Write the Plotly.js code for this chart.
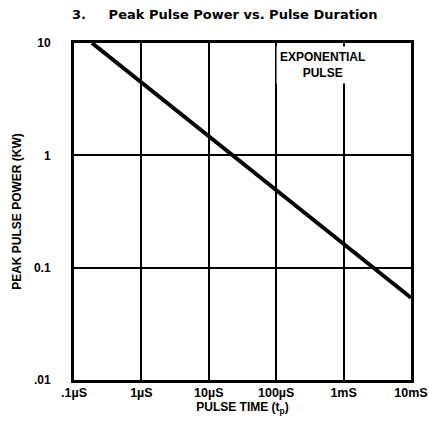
<!DOCTYPE html>
<html><head><meta charset="utf-8">
<script src="https://cdn.plot.ly/plotly-3.0.1.min.js"></script>
<style>html,body{margin:0;padding:0;background:#fff}</style>
</head><body>
<div id="chart" style="width:429px;height:425px"></div>
<script>
// pulse time in microseconds
const pulseTimeUs = [0.185, 100, 10000];
// peak pulse power in kW
const peakPowerKW = [10, 0.49, 0.054];
const xTickVals = [0.1, 1, 10, 100, 1000, 10000];
const xTickText = [".1µS", "1µS", "10µS", "100µS", "1mS", "10mS"];
const yTickVals = [0.01, 0.1, 1, 10];
const yTickText = [".01", "0.1", "1", "10"];

const font = {family: "Liberation Sans, Arial, sans-serif", color: "#000"};

Plotly.newPlot("chart", [{
  x: pulseTimeUs, y: peakPowerKW, mode: "lines", type: "scatter",
  line: {color: "#000", width: 4}, hoverinfo: "skip"
}], {
  width: 429, height: 425,
  margin: {l: 74, r: 18, t: 43, b: 45},
  paper_bgcolor: "#fff", plot_bgcolor: "#fff",
  showlegend: false,
  title: {text: "<b>3.     Peak Pulse Power vs. Pulse Duration</b>",
          font: {family: "DejaVu Sans, sans-serif", color: "#000", size: 13},
          xref: "container", x: 72/429, xanchor: "left",
          yref: "container", y: 1 - 14/425, yanchor: "middle"},
  xaxis: {type: "log", range: [-1, 4], tickvals: xTickVals, ticktext: xTickText,
          showgrid: true, gridcolor: "#000", gridwidth: 2,
          showline: true, linecolor: "#000", linewidth: 3, mirror: true,
          ticks: "", ticklabelstandoff: -1, zeroline: false,
          tickfont: Object.assign({}, font, {size: 12.5, weight: "bold"}),
          title: {text: "<b>PULSE TIME (t<sub>p</sub>)</b>", font: Object.assign({}, font, {size: 12}), standoff: 0}},
  yaxis: {type: "log", range: [-2, 1], tickvals: yTickVals, ticktext: yTickText,
          showgrid: true, gridcolor: "#000", gridwidth: 2,
          showline: true, linecolor: "#000", linewidth: 3, mirror: true,
          ticks: "", ticklabelstandoff: 18, zeroline: false,
          tickfont: Object.assign({}, font, {size: 12, weight: "bold"}),
          title: {text: "<b>PEAK PULSE POWER (KW)</b>", font: Object.assign({}, font, {size: 12}), standoff: 10}},
  annotations: [{
    text: "<b>EXPONENTIAL<br>PULSE</b>", xref: "paper", yref: "paper",
    x: (322-74)/337, y: 1 - (65-43)/337, xanchor: "center", yanchor: "middle",
    showarrow: false, bgcolor: "#fff", borderpad: 3,
    font: Object.assign({}, font, {size: 12})
  }]
}, {staticPlot: true, displayModeBar: false});
</script>
</body></html>
